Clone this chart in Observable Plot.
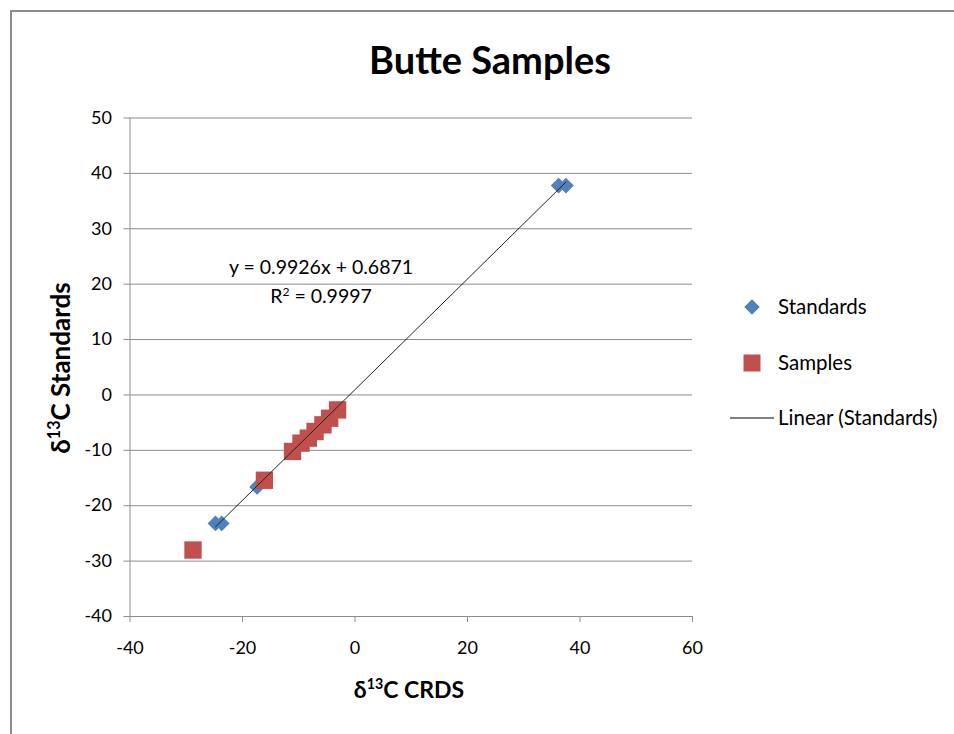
<!DOCTYPE html>
<html>
<head>
<meta charset="utf-8">
<script src="https://cdn.jsdelivr.net/npm/d3@7"></script>
<script src="https://cdn.jsdelivr.net/npm/@observablehq/plot@0.6"></script>
<style>
  body { margin: 0; background: #fff; font-family: Lato, "Open Sans", sans-serif; }
  #wrap { position: relative; width: 954px; height: 734px; overflow: hidden; background: #fff; }
  #frame { position: absolute; left: 10px; top: 10px; width: 980px; height: 760px; border: 2px solid #8c8c8c; box-sizing: border-box; }
  #chart { position: absolute; left: 0; top: 0; }
  .abs { position: absolute; white-space: nowrap; color: #000; }
  #title { font-size: 38px; font-weight: bold; left: 490px; top: 40px; transform: translateX(-50%); line-height: 1; }
  .eq { font-size: 19.5px; left: 321px; transform: translateX(-50%); line-height: 1; }
  .axt { font-weight: bold; line-height: 1; }
  .sup { font-size: 0.62em; position: relative; top: -0.6em; }
  #ytitle { font-size: 26px; left: 60px; top: 368px; transform: translate(-50%, -50%) rotate(-90deg); }
  #xtitle { font-size: 23px; left: 409px; top: 678px; transform: translateX(-50%); }
  .leg { font-size: 20.5px; line-height: 1; }
</style>
</head>
<body>
<div id="wrap">
  <div id="frame"></div>
  <div id="chart"></div>
  <div id="title" class="abs">Butte Samples</div>
  <div class="abs eq" style="top:257px">y = 0.9926x + 0.6871</div>
  <div class="abs eq" style="top:286px">R<span class="sup">2</span> = 0.9997</div>
  <div id="ytitle" class="abs axt">δ<span class="sup">13</span>C Standards</div>
  <div id="xtitle" class="abs axt">δ<span class="sup">13</span>C CRDS</div>
  <div id="legend"></div>
</div>
<script>
// Standards (blue diamonds): δ13C CRDS vs δ13C Standards
const standardsX = [-24.8, -23.7, -17.4, 36.2, 37.5];
const standardsY = [-23.2, -23.2, -16.6, 37.8, 37.8];
// Samples (red squares)
const samplesX = [-28.8, -16.1, -11.1, -9.6, -8.3, -7.1, -5.7, -4.5, -3.1];
const samplesY = [-28.0, -15.4, -10.2, -8.7, -7.8, -6.6, -5.4, -4.2, -2.7];
// Axis ticks
const xTicks = [-40, -20, 0, 20, 40, 60];
const yTicks = [-40, -30, -20, -10, 0, 10, 20, 30, 40, 50];
// Legend entries
const legendLabels = ["Standards", "Samples", "Linear (Standards)"];

const blue = "#4F81BD";
const red = "#C0504D";

const standards = standardsX.map((x, i) => ({x, y: standardsY[i]}));
const samples = samplesX.map((x, i) => ({x, y: samplesY[i]}));

const chart = Plot.plot({
  width: 954,
  height: 734,
  marginLeft: 129.5,
  marginRight: 262,
  marginTop: 117.5,
  marginBottom: 118,
  style: { fontFamily: "Lato, 'Open Sans', sans-serif", fontSize: "18px", color: "#000", background: "transparent" },
  x: { domain: [-40, 60], ticks: xTicks, tickFormat: d => String(d), tickSize: 6, tickPadding: 19, label: null },
  y: { domain: [-40, 50], ticks: yTicks, tickFormat: d => String(d), tickSize: 6, tickPadding: 12, label: null },
  marks: [
    Plot.gridY(yTicks, { stroke: "#8c8c8c", strokeOpacity: 1, strokeWidth: 1 }),
    Plot.ruleX([-40], { stroke: "#8c8c8c", strokeWidth: 1 }),
    Plot.axisX({ ticks: xTicks, tickFormat: d => String(d), tickSize: 6, tickPadding: 19, stroke: "#8c8c8c", label: null }),
    Plot.axisY({ ticks: yTicks, tickFormat: d => String(d), tickSize: 6, tickPadding: 12, stroke: "#8c8c8c", label: null }),
    Plot.dot(standards, { x: "x", y: "y", symbol: "square", rotate: 45, r: 6.3, fill: blue, stroke: "none" }),
    Plot.dot(samples, { x: "x", y: "y", symbol: "square", r: 9.8, fill: red, stroke: "none" }),
    Plot.linearRegressionY(standards, { x: "x", y: "y", ci: 0, stroke: "#222", strokeWidth: 1 })
  ]
});
document.getElementById("chart").appendChild(chart);

// Legend (HTML + tiny svg swatches)
const legend = document.getElementById("legend");
const items = [
  { label: legendLabels[0], y: 307, swatch: `<svg width="20" height="20" style="position:absolute;left:742px;top:${307-10}px"><rect x="4.5" y="4.5" width="11" height="11" fill="${blue}" transform="rotate(45 10 10)"/></svg>` },
  { label: legendLabels[1], y: 363, swatch: `<svg width="20" height="20" style="position:absolute;left:742px;top:${363-10}px"><rect x="1.5" y="1.5" width="17" height="17" fill="${red}"/></svg>` },
  { label: legendLabels[2], y: 418, swatch: `<svg width="46" height="4" style="position:absolute;left:730px;top:${418-2}px"><line x1="0" y1="2" x2="44" y2="2" stroke="#000" stroke-width="1"/></svg>` }
];
for (const it of items) {
  legend.insertAdjacentHTML("beforeend", it.swatch);
  const d = document.createElement("div");
  d.className = "abs leg";
  d.style.left = "778px";
  d.style.top = (it.y - 11) + "px";
  d.textContent = it.label;
  legend.appendChild(d);
}
</script>
</body>
</html>
